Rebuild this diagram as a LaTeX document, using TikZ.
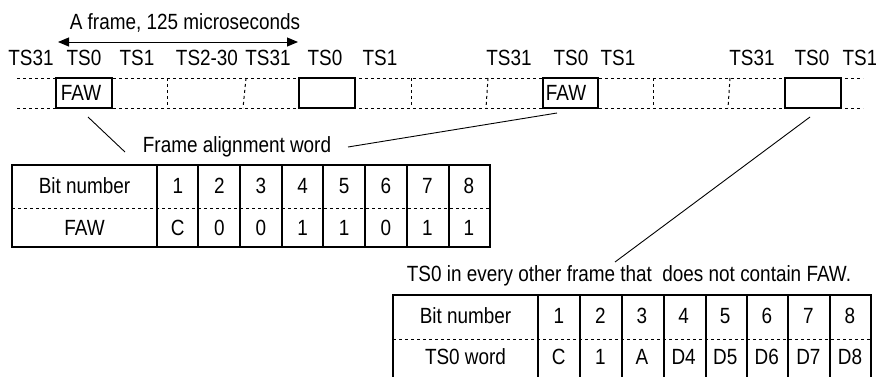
\documentclass[tikz,border=0pt]{standalone}
\usepackage{fontspec}
\setmainfont{Liberation Sans}[FakeStretch=0.86]
\usetikzlibrary{arrows.meta}
\begin{document}
\begin{tikzpicture}[x=1pt,y=-1pt,
  lbl/.style={inner sep=0pt,font=\fontsize{22}{26}\selectfont},
  dotline/.style={line width=1pt,dash pattern=on 3pt off 3pt},
  slotbox/.style={line width=1.3pt},
  tline/.style={line width=1.3pt},
  conn/.style={line width=0.9pt}]
\useasboundingbox (0,0) rectangle (876,376);
% --- frame strip ---
\draw[dotline] (17,78) -- (863,78);
\draw[dotline] (17,108) -- (863,108);
\foreach \a/\b in {167/167,246/243,411/411,488/486,653/653,730/728}
  \draw[dotline] (\a,78) -- (\b,108);
\foreach \n/\a/\b in {b1/56/112,b2/299/355,b3/543/598,b4/785/841}
  \draw[slotbox,fill=white] (\a,78) rectangle (\b,108) coordinate (\n-br);
\node[lbl] (faw1) at (81,93) {FAW};
\node[lbl] (faw2) at (566,93) {FAW};
% slot labels
\foreach \t/\x [count=\i] in {TS31/31,TS0/84,TS1/137,TS2-30/207,TS31/268,TS0/325,TS1/380,TS31/509,TS0/571,TS1/618,TS31/752,TS0/812,TS1/860}
  \node[lbl] (ts\i) at (\x,58) {\t};
% frame arrow
\coordinate (fa) at (58,42);
\coordinate (fb) at (298,42);
\draw[line width=1pt,{Triangle[length=11pt,width=9pt]}-{Triangle[length=11pt,width=9pt]}] (fa) -- (fb);
\node[lbl] (frame) at (185,23) {A frame, 125 microseconds};
% label texts
\node[lbl] (faword) at (237,147) {Frame alignment word};
\node[lbl] (ts0txt) at (629,276) {TS0 in every other frame that\ \ does not contain FAW.};
% connectors
\coordinate (c1a) at (88,117); \coordinate (c1b) at (125,152);
\coordinate (c2a) at (557,113); \coordinate (c2b) at (348,147);
\coordinate (c3a) at (810,117); \coordinate (c3b) at (615,262);
\draw[conn] (c1a) -- (c1b);
\draw[conn] (c2b) -- (c2a);
\draw[conn] (c3a) -- (c3b);
% --- table 1 ---
\draw[tline] (12,165) rectangle (490,247);
\draw[dotline] (12,208) -- (490,208);
\foreach \x in {157,198,240,282,323,365,407,449}
  \draw[tline] (\x,165) -- (\x,247);
\node[lbl] (t1h) at (84.5,186) {Bit number};
\node[lbl] (t1r) at (84.5,228) {FAW};
\foreach \h/\v [count=\i] in {1/C,2/0,3/0,4/1,5/1,6/0,7/1,8/1}{
  \pgfmathsetmacro{\cx}{157+41.6*(\i-1)+20.8}
  \node[lbl] (t1h\i) at (\cx,186) {\h};
  \node[lbl] (t1v\i) at (\cx,228) {\v};
}
% --- table 2 ---
\draw[tline] (393,380) -- (393,295) -- (871,295) -- (871,380);
\draw[dotline] (393,339) -- (871,339);
\foreach \x in {538,580,622,664,706,747,788,830}
  \draw[tline] (\x,295) -- (\x,380);
\node[lbl] (t2h) at (465.5,316) {Bit number};
\node[lbl] (t2r) at (465.5,357) {TS0 word};
\foreach \h/\v [count=\i] in {1/C,2/1,3/A,4/D4,5/D5,6/D6,7/D7,8/D8}{
  \pgfmathsetmacro{\cx}{538+41.6*(\i-1)+20.8}
  \node[lbl] (t2h\i) at (\cx,316) {\h};
  \node[lbl] (t2v\i) at (\cx,357) {\v};
}
\end{tikzpicture}
\end{document}
